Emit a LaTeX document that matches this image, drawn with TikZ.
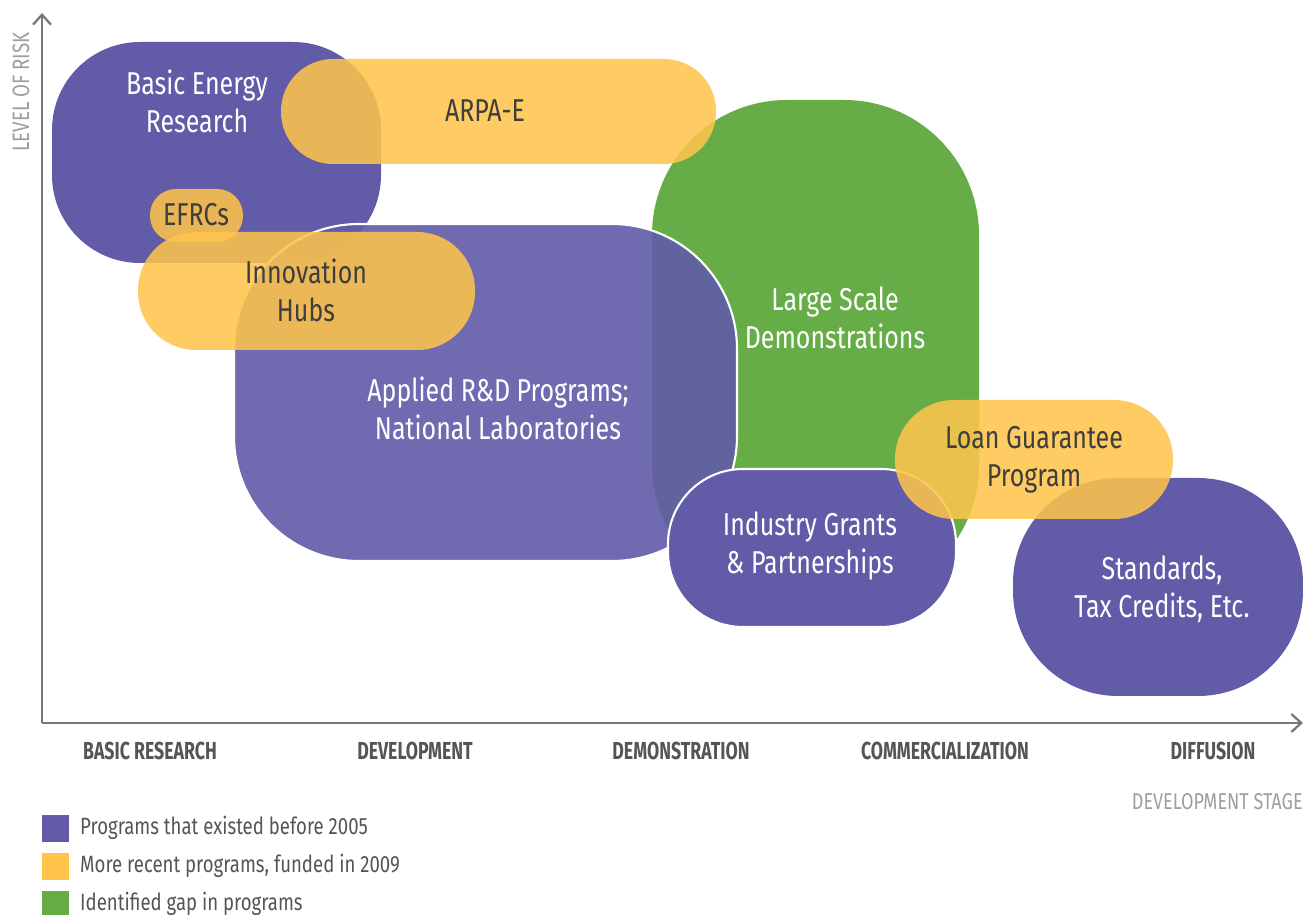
\documentclass[tikz,border=0pt]{standalone}
\usepackage{fontspec}
\setmainfont{Fira Sans}[FakeStretch=0.72]
\newfontfamily\progfont{Fira Sans}[FakeStretch=0.79]
\usepackage{xcolor}
\usepackage{tikz}
\usetikzlibrary{arrows.meta, positioning}

\definecolor{purp}{RGB}{97,91,168}
\definecolor{yell}{RGB}{254,196,76}
\definecolor{gapgreen}{RGB}{102,173,72}
\definecolor{axisgray}{RGB}{120,120,120}
\definecolor{stagegray}{RGB}{85,85,85}
\definecolor{darktext}{RGB}{62,62,62}
\definecolor{lightgray}{RGB}{158,158,158}

\begin{document}
\begin{tikzpicture}[
      x=0.02cm, y=-0.02cm,
      old/.style={fill=purp},
      recent/.style={fill=yell, fill opacity=0.87},
      gap/.style={fill=gapgreen},
      rim/.style={draw=white, line width=1.2pt},
      progw/.style={text=white, align=center, font=\progfont\fontsize{18}{21.6}\selectfont},
      progd/.style={text=darktext, align=center, font=\progfont\fontsize{18}{21.6}\selectfont},
      stage/.style={text=stagegray, font=\bfseries\fontsize{14}{16}\selectfont},
      legtext/.style={text=stagegray, anchor=west, font=\progfont\fontsize{13.4}{16}\selectfont},
      axis/.style={draw=axisgray, line width=1.3pt},
      tip/.style={-{Straight Barb[length=2mm, width=3.6mm, line width=1.3pt]}}
    ]
      \useasboundingbox (0,0) rectangle (1303,915);

      % programs before 2005 and the gap
      \path[old, rounded corners=1.76cm] (52,42) rectangle (381,263);
      \path[gap, rounded corners=2.7cm] (652,100) rectangle (979,600);
      \path[old, fill opacity=0.9, rim, rounded corners=2.5cm] (234,224) rectangle (737,561);
      \path[old, rim, rounded corners=1.5cm] (668,469) rectangle (956,627);
      \path[old, rounded corners=2.1cm] (1013,478) rectangle (1303,696);

      % programs funded in 2009
      \path[recent, rounded corners=1.04cm] (281,59) rectangle (716,164);
      \path[recent, rounded corners=0.52cm] (150,189) rectangle (243,242);
      \path[recent, rounded corners=1.16cm] (138,232) rectangle (475,350);
      \path[recent, rounded corners=1.18cm] (895,400) rectangle (1173,519);

      % labels
      \node[progw] (ber) at (197,101) {Basic Energy\\Research};
      \node[progd] (arpae) at (485,111) {ARPA-E};
      \node[progd] (efrc) at (196,215) {EFRCs};
      \node[progd] (hubs) at (306,290) {Innovation\\Hubs};
      \node[progw] (applied) at (498,408) {Applied R\&D Programs;\\National Laboratories};
      \node[progw] (large) at (835,318) {Large Scale\\Demonstrations};
      \node[progd] (loan) at (1034,460) {Loan Guarantee\\Program};
      \node[progw] (industry) at (810,546) {Industry Grants\\\& Partnerships};
      \node[progw] (standards) at (1162,589) {Standards,\\Tax Credits, Etc.};

      % axes
      \coordinate (origin) at (42,723);
      \coordinate (risktop) at (42,13);
      \coordinate (stageend) at (1303,723);
      \draw[axis, tip] (origin) -- (risktop);
      \draw[axis, tip] (origin) -- (stageend);
      \node[rotate=90, text=lightgray, font=\progfont\fontsize{13.5}{15}\selectfont] (risk) at (21,92) {LEVEL OF RISK};
      \node[text=lightgray, anchor=east, inner xsep=0pt, font=\progfont\fontsize{13}{15}\selectfont] (devstage) at (1303,802) {DEVELOPMENT STAGE};

      \node[stage] (basic) at (150,751) {BASIC RESEARCH};
      \node[stage] (devel) at (415,751) {DEVELOPMENT};
      \node[stage] (demo) at (681,751) {DEMONSTRATION};
      \node[stage] (comm) at (945,751) {COMMERCIALIZATION};
      \node[stage] (diff) at (1213,751) {DIFFUSION};

      % legend
      \fill[purp] (42,815) rectangle (69,842);
      \fill[yell] (42,853) rectangle (69,880);
      \fill[gapgreen] (42,891) rectangle (69,920);
      \node[legtext] (leg1) at (74,828) {Programs that existed before 2005};
      \node[legtext] (leg2) at (74,866) {More recent programs, funded in 2009};
      \node[legtext] (leg3) at (74,904) {Identified gap in programs};
    \end{tikzpicture}
\end{document}
